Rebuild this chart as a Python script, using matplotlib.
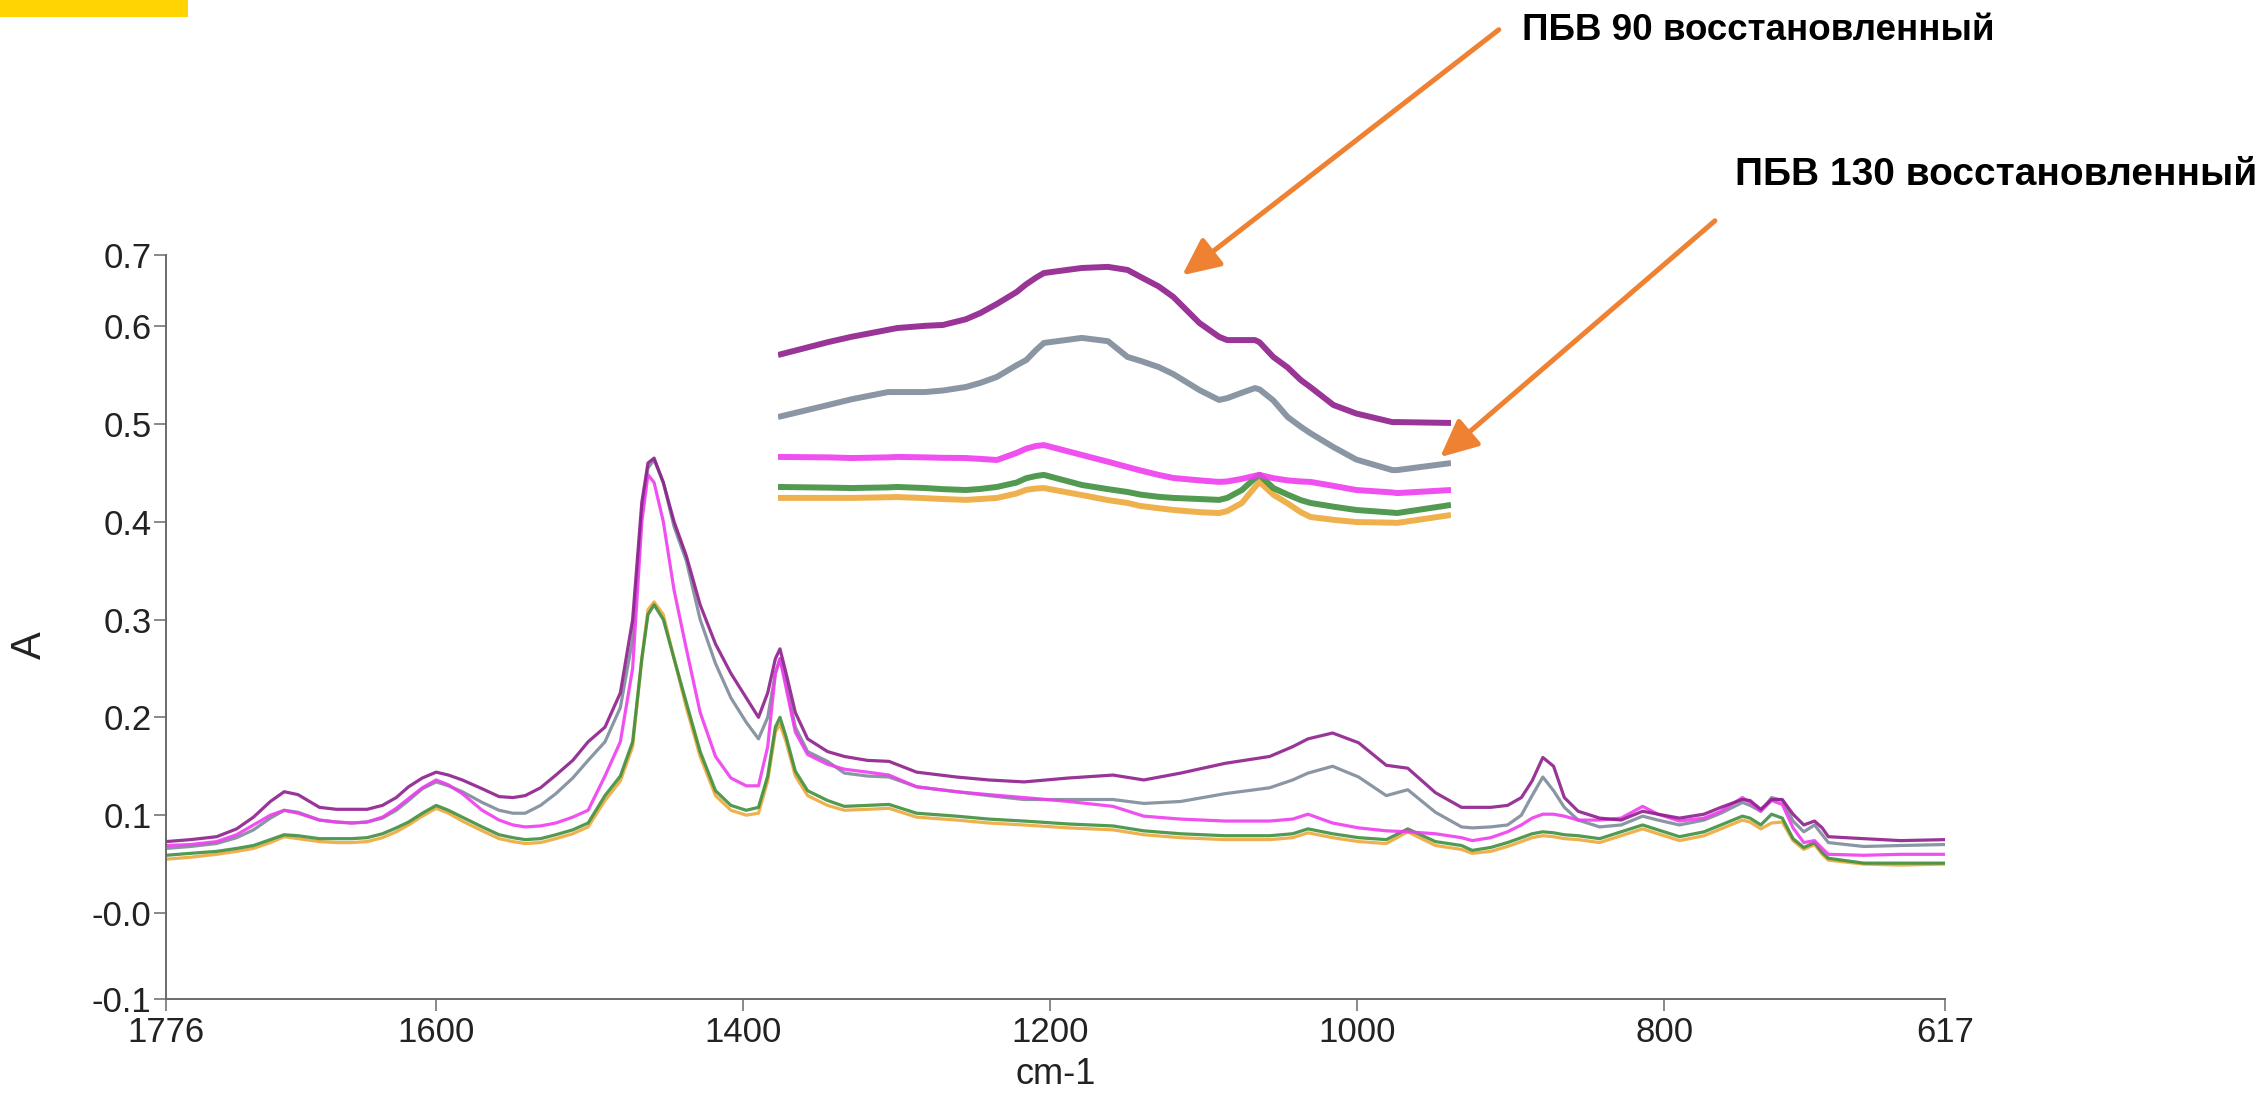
import numpy as np
import matplotlib
matplotlib.use("Agg")
import matplotlib.pyplot as plt
from matplotlib.patches import FancyArrowPatch, Rectangle

plt.rcParams['font.family'] = ['Liberation Sans', 'DejaVu Sans']

# IR spectra, absorbance vs wavenumber (cm-1)
wn = [1776, 1760, 1743, 1730, 1719, 1708, 1699, 1690, 1676, 1665, 1655, 1645, 1635, 1626,
      1618, 1609, 1600, 1592, 1583, 1570, 1559, 1550, 1542, 1532, 1522, 1511, 1501,
      1490, 1480, 1472, 1466, 1462, 1458, 1452, 1445, 1437, 1428, 1418, 1408, 1398, 1390,
      1384, 1379, 1376, 1372, 1366, 1358, 1345,
      1334, 1319, 1305, 1287, 1261, 1240, 1217, 1188, 1159, 1139, 1115, 1086, 1057, 1042,
      1032, 1016, 999, 981, 967, 949, 932,
      925, 913, 902, 893, 886, 879, 872, 865, 856, 842, 828, 814, 804, 790, 774, 763, 749,
      744, 737, 730, 723, 716, 709, 702, 697, 693, 670, 646, 617]

purple = [.073, .075, .078, .086, .098, .114, .124, .121, .108, .106, .106, .106, .110, .118,
          .129, .138, .144, .141, .136, .127, .119, .118, .120, .128, .141, .156, .175,
          .190, .225, .300, .420, .460, .465, .440, .400, .365, .315, .275, .245, .220, .200,
          .225, .260, .270, .245, .205, .178, .165,
          .160, .156, .155, .144, .139, .136, .134, .138, .141, .136, .143, .153, .160, .170,
          .178, .184, .174, .151, .148, .123, .108,
          .108, .108, .110, .118, .135, .159, .150, .118, .104, .097, .095, .104, .101, .097,
          .101, .108, .116, .115, .106, .116, .116, .101, .090, .094, .087, .078, .076, .074, .075]

gray = [.066, .068, .071, .077, .085, .097, .105, .103, .095, .093, .092, .093, .097, .105,
        .115, .127, .134, .130, .124, .113, .105, .102, .102, .110, .122, .138, .156,
        .175, .210, .280, .410, .455, .463, .440, .395, .360, .300, .255, .220, .195, .178,
        .200, .245, .260, .235, .190, .165, .155,
        .143, .140, .139, .129, .124, .120, .116, .116, .116, .112, .114, .122, .128, .136,
        .143, .150, .139, .120, .126, .103, .088,
        .087, .088, .090, .100, .120, .139, .125, .108, .095, .088, .090, .099, .095, .090,
        .095, .102, .113, .110, .104, .118, .115, .094, .083, .090, .080, .072, .068, .069, .070]

magenta = [.069, .070, .073, .080, .090, .100, .105, .102, .095, .093, .092, .093, .098, .107,
           .117, .128, .136, .131, .122, .105, .095, .090, .088, .089, .092, .098, .105,
           .140, .175, .250, .400, .448, .440, .400, .330, .270, .205, .160, .138, .130, .130,
           .170, .245, .260, .230, .185, .162, .152,
           .147, .144, .141, .129, .124, .121, .118, .114, .109, .099, .096, .094, .094, .096,
           .101, .092, .087, .084, .083, .081, .077,
           .074, .077, .083, .090, .097, .101, .101, .099, .095, .095, .097, .109, .101, .094,
           .097, .104, .118, .113, .104, .115, .111, .087, .072, .074, .066, .060, .059, .060, .060]

green = [.059, .061, .063, .066, .069, .075, .080, .079, .076, .076, .076, .077, .081, .087,
         .093, .102, .110, .105, .098, .088, .080, .077, .075, .076, .080, .085, .092,
         .120, .140, .175, .260, .305, .315, .300, .260, .215, .165, .125, .110, .105, .108,
         .140, .190, .200, .180, .145, .125, .115,
         .109, .110, .111, .102, .099, .096, .094, .091, .089, .084, .081, .079, .079, .081,
         .086, .081, .077, .075, .086, .073, .069,
         .064, .067, .072, .077, .081, .083, .082, .080, .079, .076, .083, .090, .085, .078,
         .083, .090, .099, .097, .090, .101, .097, .076, .067, .072, .062, .056, .051, .051, .051]

orange = [.055, .057, .060, .063, .066, .072, .078, .076, .073, .072, .072, .073, .077, .083,
          .090, .099, .107, .102, .094, .084, .076, .073, .071, .072, .076, .081, .088,
          .115, .135, .170, .260, .310, .318, .305, .260, .210, .160, .120, .105, .100, .102,
          .135, .185, .193, .175, .140, .120, .110,
          .105, .106, .107, .098, .095, .092, .090, .087, .085, .080, .077, .075, .075, .077,
          .082, .077, .073, .071, .083, .069, .065,
          .061, .063, .068, .073, .077, .079, .078, .076, .075, .072, .079, .086, .081, .074,
          .079, .086, .095, .093, .086, .092, .093, .074, .065, .070, .060, .054, .050, .049, .050]

# enlarged 1114-908 cm-1 fragment
wn_zoom = [1114, 1098.6, 1091.5, 1080.3, 1077.5, 1069, 1063.5, 1056.5, 1052, 1047, 1041, 1038,
           1035, 1032.6, 1021, 1013, 1007, 1003, 997.5, 993, 985, 979, 976.5, 972, 968,
           966.6, 962.4, 958, 954, 951, 944, 937, 926, 924.5, 908]
purple_zoom = [.1437, .1496, .1520, .1552, .1560, .1570, .1574, .1600, .1629, .1670, .1724, .1760,
               .1790, .1811, .1834, .1839, .1825, .1793, .1750, .1702, .1583, .1520, .1505, .1505, .1505,
               .1495, .1428, .1380, .1323, .1290, .1209, .1170, .1131, .1131, .1127]
gray_zoom = [.1154, .1209, .1235, .1268, .1268, .1268, .1275, .1291, .1310, .1337, .1390, .1414,
             .1460, .1492, .1515, .1500, .1428, .1410, .1382, .1350, .1277, .1232, .1240, .1265, .1286,
             .1280, .1230, .1154, .1110, .1080, .1017, .0960, .0912, .0912, .0944]
magenta_zoom = [.0972, .0970, .0967, .0970, .0972, .0970, .0968, .0967, .0963, .0958, .0990, .1010,
                .1022, .1026, .0981, .0950, .0926, .0910, .0890, .0876, .0865, .0858, .0860, .0872, .0886,
                .0890, .0875, .0865, .0860, .0858, .0840, .0821, .0810, .0807, .0821]
green_zoom = [.0835, .0832, .0830, .0833, .0835, .0830, .0825, .0821, .0826, .0835, .0855, .0875,
              .0885, .0890, .0844, .0825, .0812, .0800, .0790, .0785, .0780, .0776, .0785, .0821, .0875,
              .0890, .0830, .0800, .0775, .0762, .0745, .0730, .0718, .0716, .0753]
orange_zoom = [.0785, .0785, .0785, .0788, .0789, .0784, .0780, .0776, .0780, .0785, .0805, .0822,
               .0828, .0830, .0798, .0775, .0762, .0748, .0738, .0730, .0720, .0716, .0725, .0762, .0835,
               .0858, .0800, .0760, .0720, .0698, .0685, .0675, .0672, .0671, .0707]

colors = {'orange': '#eda93a', 'green': '#3f8f3f', 'gray': '#7d8b99',
          'magenta': '#ee3dee', 'purple': '#8e1f8c'}

W, H = 2262, 1094
fig = plt.figure(figsize=(W / 100, H / 100), dpi=100)

# main axes
ax = fig.add_axes([166 / W, 1 - 999 / H, (1945 - 166) / W, (999 - 255) / H])
series = [(orange, 'orange'), (green, 'green'), (gray, 'gray'), (magenta, 'magenta'), (purple, 'purple')]
for vals, name in series:
    ax.plot(wn, vals, color=colors[name], lw=2.3, alpha=0.9)

y_lo, y_hi = -0.0879, 0.6726
ax.set_xlim(1776, 617)
ax.set_ylim(y_lo, y_hi)
ax.set_xticks([1776, 1600, 1400, 1200, 1000, 800, 617])
ax.set_xticklabels(['1776', '1600', '1400', '1200', '1000', '800', '617'])
ax.set_yticks([y_lo, 0, 0.1, 0.2, 0.3, 0.4, 0.5, 0.6, y_hi])
ax.set_yticklabels(['-0.1', '-0.0', '0.1', '0.2', '0.3', '0.4', '0.5', '0.6', '0.7'])
for s in ['top', 'right']:
    ax.spines[s].set_visible(False)
for s in ['left', 'bottom']:
    ax.spines[s].set_color('#6a6a6a')
    ax.spines[s].set_linewidth(1.4)
ax.tick_params(direction='out', length=8.5, width=1.1, color='#6a6a6a',
               labelsize=25, labelcolor='#222222', pad=2)
ax.tick_params(axis='x', pad=4)
ax.set_xlabel('cm-1', fontsize=26, color='#222222', va='center')
ax.xaxis.set_label_coords(0.5, -(1075 - 999) / 744)
ax.set_ylabel('A', fontsize=30, color='#222222', va='center')
ax.yaxis.set_label_coords(-(166 - 30) / 1779, (999 - 645) / 744)

# enlarged fragment, no frame
axz = fig.add_axes([778 / W, 1 - 540 / H, 673 / W, 290 / H])
for name, vals in [('orange', orange_zoom), ('green', green_zoom), ('magenta', magenta_zoom),
                   ('gray', gray_zoom), ('purple', purple_zoom)]:
    axz.plot(wn_zoom, vals, color=colors[name], lw=4.3, alpha=0.9, solid_capstyle='butt')
axz.set_xlim(1114, 908)
axz.set_ylim(0.0593, 0.1916)
axz.axis('off')

# arrows and captions
arrow_col = '#ee8132'
for (x0, y0), (x1, y1) in [((1501, 28), (1180, 277)), ((1717, 219), (1438, 459))]:
    fig.add_artist(FancyArrowPatch((x0 / W, 1 - y0 / H), (x1 / W, 1 - y1 / H),
                                   transform=fig.transFigure,
                                   arrowstyle='-|>,head_length=0.6,head_width=0.28',
                                   mutation_scale=38, lw=3.6, color=arrow_col))

fig.text(1522 / W, 1 - 30 / H, 'ПБВ 90 восстановленный', ha='left', va='center',
         fontsize=26.5, fontweight='bold', family='Liberation Sans')
fig.text(2257 / W, 1 - 175 / H, 'ПБВ 130 восстановленный', ha='right', va='center',
         fontsize=28, fontweight='bold', family='Liberation Sans')

fig.add_artist(Rectangle((0, 1 - 17 / H), 188 / W, 17 / H, transform=fig.transFigure,
                         color='#ffd400', lw=0))

fig.savefig('out.png', dpi=100, facecolor='white')
